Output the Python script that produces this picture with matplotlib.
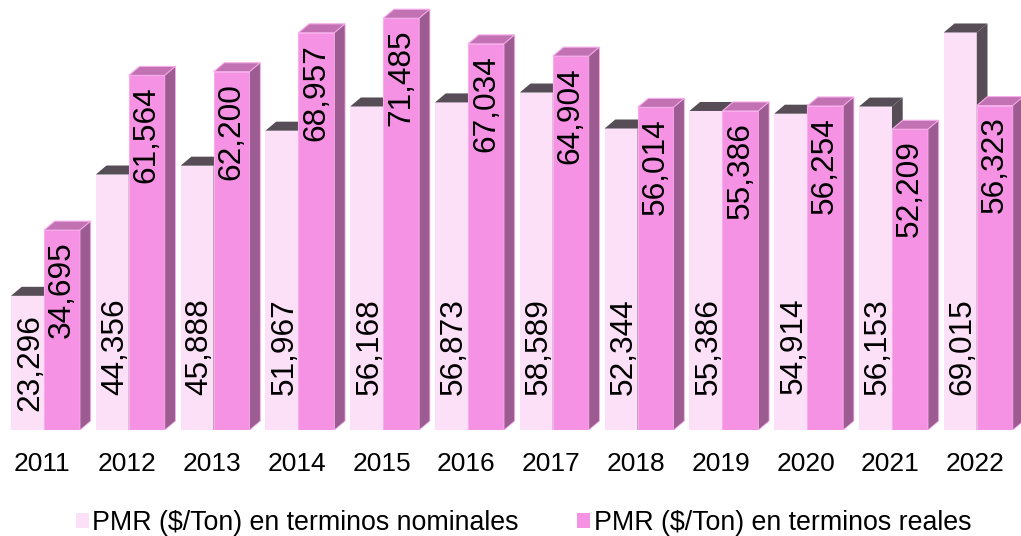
import matplotlib
matplotlib.use("Agg")
import matplotlib.pyplot as plt
from matplotlib.patches import Polygon, Patch
import numpy as np

plt.rcParams['font.family'] = ['Liberation Sans', 'DejaVu Sans']

years = ["2011", "2012", "2013", "2014", "2015", "2016", "2017", "2018", "2019", "2020", "2021", "2022"]
nominal = [23296, 44356, 45888, 51967, 56168, 56873, 58589, 52344, 55386, 54914, 56153, 69015]
real = [34695, 61564, 62200, 68957, 71485, 67034, 64904, 56014, 55386, 56254, 52209, 56323]
series_names = ["PMR ($/Ton) en terminos nominales", "PMR ($/Ton) en terminos reales"]

W, H = 1021, 536
fig = plt.figure(figsize=(W / 100, H / 100), dpi=100)
base_px = 430
px_per_unit_y = 5.76 / 1000
px_per_cat = 84.8
x0_px = 44
ax = fig.add_axes([0, (H - base_px) / H, 1, base_px / H])
ax.set_ylim(0, base_px / px_per_unit_y)
ax.set_xlim(-x0_px / px_per_cat, (W - x0_px) / px_per_cat)

wn = 33 / px_per_cat
wr = 36 / px_per_cat
dx = 10.7 / px_per_cat
dy = 9 / px_per_unit_y

c_nom = '#FCE0F7'
c_nom_dark = '#564D56'
c_real = '#F592E3'
c_real_top = '#C271B2'
c_real_side = '#9C5B91'
c_real_edge = '#F8AEEC'

x = np.arange(len(years))

ax.bar(x - wn, nominal, width=wn, align='edge', color=c_nom, zorder=1, linewidth=0)
for xi, v in zip(x, nominal):
    top = Polygon([(xi - wn, v), (xi, v), (xi + dx, v + dy), (xi - wn + dx, v + dy)],
                  closed=True, fc=c_nom_dark, ec='none', zorder=1.5)
    side = Polygon([(xi, 0), (xi, v), (xi + dx, v + dy), (xi + dx, dy)],
                   closed=True, fc=c_nom_dark, ec='none', zorder=1.5)
    ax.add_patch(top)
    ax.add_patch(side)

ax.bar(x, real, width=wr, align='edge', color=c_real, zorder=3, edgecolor=c_real_edge, linewidth=0.8)
for xi, v in zip(x, real):
    top = Polygon([(xi, v), (xi + wr, v), (xi + wr + dx, v + dy), (xi + dx, v + dy)],
                  closed=True, fc=c_real_top, ec=c_real_edge, lw=0.8, zorder=3.5)
    side = Polygon([(xi + wr, 0), (xi + wr, v), (xi + wr + dx, v + dy), (xi + wr + dx, dy)],
                   closed=True, fc=c_real_side, ec=c_real_edge, lw=0.6, zorder=3.5)
    ax.add_patch(top)
    ax.add_patch(side)

fs_val = 22.8
label_len = 97 / px_per_unit_y
gap_top = 18 / px_per_unit_y
base_off = 35 / px_per_unit_y
for xi, v in zip(x, nominal):
    ytop = min(v - gap_top, base_off + label_len)
    ax.text(xi - wn / 2 + 0.03, ytop, f"{v:,}", rotation=90, ha='center', va='top',
            fontsize=fs_val, color='black', zorder=5)
for xi, v in zip(x, real):
    ax.text(xi + wr / 2, v - 11 / px_per_unit_y, f"{v:,}", rotation=90, ha='center', va='top',
            fontsize=fs_val, color='black', zorder=5)

ax.set_xticks(x - 0.02)
ax.set_xticklabels(years, fontsize=19)
ax.tick_params(axis='x', length=0, pad=15.5)
ax.set_yticks([])
for s in ax.spines.values():
    s.set_visible(False)
ax.patch.set_alpha(0)

handles = [Patch(fc=c_nom, ec='none'), Patch(fc=c_real, ec='none')]
fig.legend(handles, series_names, ncol=2, loc='center', bbox_to_anchor=(523.5 / W, 13 / H),
           frameon=False, fontsize=19.3, handlelength=0.48, handleheight=0.5,
           handletextpad=0.12, columnspacing=2.2, borderpad=0, borderaxespad=0)

fig.savefig("out.png", dpi=100)
